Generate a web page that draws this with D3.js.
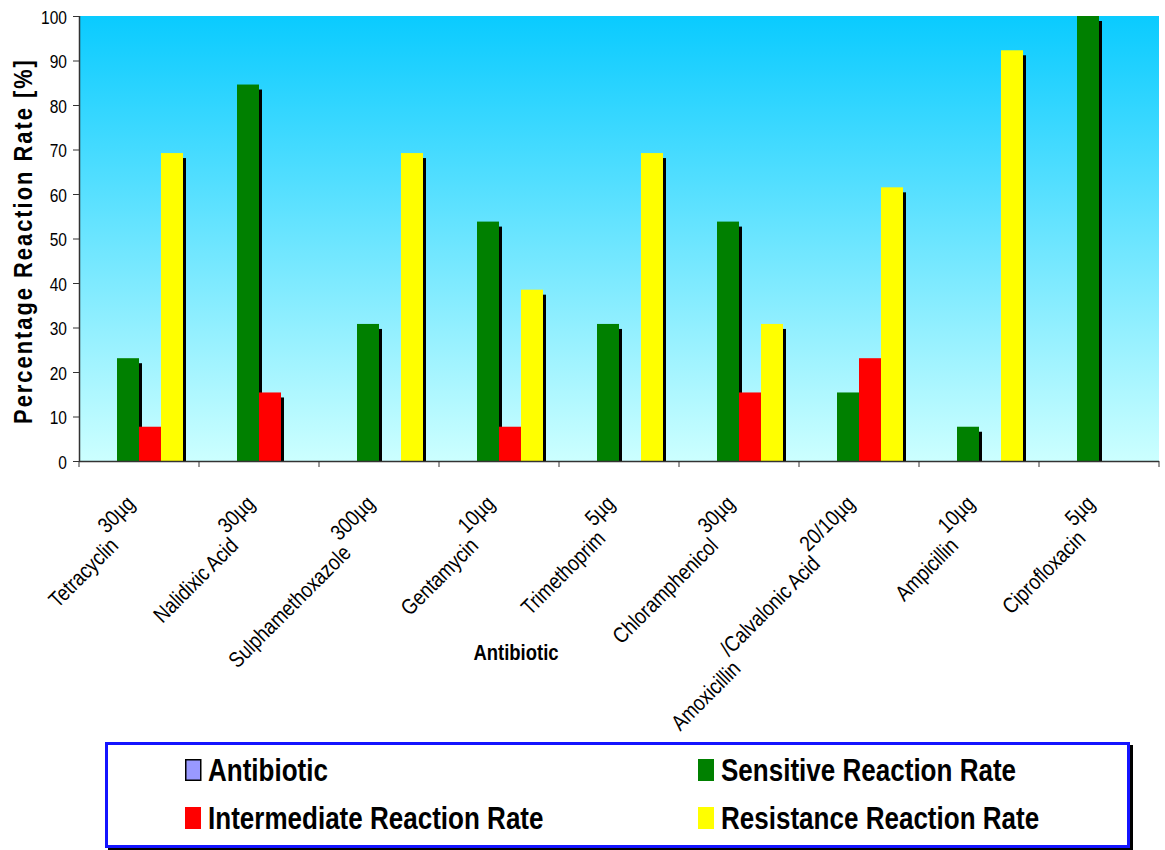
<!DOCTYPE html>
<html>
<head>
<meta charset="utf-8">
<script src="https://cdn.jsdelivr.net/npm/d3@7"></script>
<style>
  html, body { margin: 0; padding: 0; background: #ffffff; }
  svg { display: block; font-family: "Liberation Sans", Arial, sans-serif; }
</style>
</head>
<body>
<svg id="chart" width="1165" height="850"></svg>
<script>
// Antibiotic susceptibility results (percent of isolates)
const categories = [
  "Tetracyclin", "Nalidixic Acid", "Sulphamethoxazole", "Gentamycin",
  "Trimethoprim", "Chloramphenicol", "Amoxicillin\n/Calvalonic Acid",
  "Ampicillin", "Ciprofloxacin"
];
const doses = ["30µg", "30µg", "300µg", "10µg", "5µg", "30µg", "20/10µg", "10µg", "5µg"];

const seriesNames = ["Antibiotic", "Sensitive Reaction Rate", "Intermediate Reaction Rate", "Resistance Reaction Rate"];
const seriesColors = ["#9999FF", "#008000", "#FF0000", "#FFFF00"];

const antibioticValues = [null, null, null, null, null, null, null, null, null];
const sensitiveValues = [23.1, 84.6, 30.8, 53.8, 30.8, 53.8, 15.4, 7.7, 100];
const intermediateValues = [7.7, 15.4, 0, 7.7, 0, 15.4, 23.1, 0, 0];
const resistanceValues = [69.2, 0, 69.2, 38.5, 69.2, 30.8, 61.5, 92.3, 0];

const yTicks = [0, 10, 20, 30, 40, 50, 60, 70, 80, 90, 100];

const seriesValues = [antibioticValues, sensitiveValues, intermediateValues, resistanceValues];

// ---- layout ----
const plot = { left: 79, right: 1159, top: 16, bottom: 461 };
const NARROW = 0.84;   // condensed lettering

const svg = d3.select("#chart");

const x0 = d3.scaleBand()
  .domain(categories)
  .range([plot.left, plot.right])
  .paddingInner(32 / 120)
  .paddingOuter(16 / 120);

const x1 = d3.scaleBand()
  .domain(seriesNames)
  .range([0, x0.bandwidth()]);

const y = d3.scaleLinear()
  .domain([0, 100])
  .range([plot.bottom, plot.top]);

// ---- plot background gradient ----
const defs = svg.append("defs");
const grad = defs.append("linearGradient")
  .attr("id", "bg").attr("x1", 0).attr("y1", 0).attr("x2", 0).attr("y2", 1);
grad.append("stop").attr("offset", "0%").attr("stop-color", "#0ACBFF");
grad.append("stop").attr("offset", "100%").attr("stop-color", "#CCFFFF");

svg.append("rect")
  .attr("x", plot.left).attr("y", plot.top)
  .attr("width", plot.right - plot.left).attr("height", plot.bottom - plot.top)
  .attr("fill", "url(#bg)");

// ---- bars ----
const barData = [];
categories.forEach((c, i) => {
  seriesNames.forEach((s, k) => {
    const v = seriesValues[k][i];
    if (v !== null && v > 0) barData.push({ cat: c, series: s, value: v, color: seriesColors[k] });
  });
});

const SHADOW_DX = 3, SHADOW_DY = 5;

svg.append("g").selectAll("rect")
  .data(barData)
  .join("rect")
  .attr("x", d => x0(d.cat) + x1(d.series) + SHADOW_DX)
  .attr("y", d => y(d.value) + SHADOW_DY)
  .attr("width", x1.bandwidth())
  .attr("height", d => Math.max(0, y(0) - y(d.value) - SHADOW_DY))
  .attr("fill", "#000");

svg.append("g").selectAll("rect")
  .data(barData)
  .join("rect")
  .attr("x", d => x0(d.cat) + x1(d.series))
  .attr("y", d => y(d.value))
  .attr("width", x1.bandwidth())
  .attr("height", d => y(0) - y(d.value))
  .attr("fill", d => d.color);

// ---- axes ----
const axisColor = "#333";

// y axis
const yAxis = svg.append("g");
yAxis.append("line")
  .attr("x1", plot.left + 0.5).attr("x2", plot.left + 0.5)
  .attr("y1", plot.top).attr("y2", plot.bottom)
  .attr("stroke", axisColor).attr("stroke-width", 1.5);
yAxis.selectAll("line.tick")
  .data(yTicks).join("line").attr("class", "tick")
  .attr("x1", plot.left - 6).attr("x2", plot.left)
  .attr("y1", d => y(d) + 0.5).attr("y2", d => y(d) + 0.5)
  .attr("stroke", axisColor).attr("stroke-width", 1);
yAxis.selectAll("text")
  .data(yTicks).join("text")
  .attr("transform", d => `translate(67,${y(d) + 7.5}) scale(${NARROW},1)`)
  .attr("text-anchor", "end")
  .attr("font-size", "18.5px")
  .attr("fill", "#000")
  .text(d => d);

// x axis
const xAxis = svg.append("g");
xAxis.append("line")
  .attr("x1", plot.left).attr("x2", plot.right)
  .attr("y1", plot.bottom + 0.5).attr("y2", plot.bottom + 0.5)
  .attr("stroke", axisColor).attr("stroke-width", 1.5);
const step = x0.step();
const boundaries = [x0(categories[0]) - x0.paddingOuter() * step]
  .concat(categories.map(c => x0(c) - x0.paddingOuter() * step + step));
xAxis.selectAll("line.tick")
  .data(boundaries).join("line").attr("class", "tick")
  .attr("x1", d => d).attr("x2", d => d)
  .attr("y1", plot.bottom).attr("y2", plot.bottom + 6)
  .attr("stroke", axisColor).attr("stroke-width", 1);

// rotated category labels: dose on top line, name lines stepping down-left
const LINE_STEP = 18;
categories.forEach((c, i) => {
  const cx = x0(c) + x0.bandwidth() / 2;
  const g = xAxis.append("g")
    .attr("transform", `translate(${cx - 3},${505}) rotate(-45)`);
  const segments = c.split("\n").concat([doses[i]]);
  let endX = 0, ly = 0;
  for (let s = segments.length - 1; s >= 0; s--) {
    const t = g.append("text")
      .attr("transform", `translate(${endX},${ly}) scale(${NARROW},1)`)
      .attr("text-anchor", "end")
      .attr("font-size", "22px")
      .attr("fill", "#000")
      .text(segments[s]);
    const w = t.node().getComputedTextLength() * NARROW;
    endX -= w;
    ly += LINE_STEP;
  }
});

// axis titles
svg.append("text")
  .attr("transform", `translate(516,660) scale(${NARROW},1)`)
  .attr("text-anchor", "middle")
  .attr("font-size", "22px").attr("font-weight", "bold")
  .text("Antibiotic");

svg.append("text")
  .attr("transform", `translate(32,241) rotate(-90) scale(${NARROW},1)`)
  .attr("text-anchor", "middle")
  .attr("font-size", "26px").attr("font-weight", "bold")
  .attr("letter-spacing", "2.4px")
  .text("Percentage Reaction Rate [%]");

// ---- legend ----
const legend = svg.append("g");
legend.append("rect")
  .attr("x", 108).attr("y", 745).attr("width", 1025).attr("height", 106)
  .attr("fill", "#000");
legend.append("rect")
  .attr("x", 106.5).attr("y", 743.5).attr("width", 1022).attr("height", 103)
  .attr("fill", "#fff").attr("stroke", "#1414FF").attr("stroke-width", 3);

const legendPos = [
  { x: 185, y: 770 }, { x: 698, y: 770 },
  { x: 185, y: 818 }, { x: 698, y: 818 }
];
seriesNames.forEach((s, k) => {
  const p = legendPos[k];
  legend.append("rect")
    .attr("x", p.x + (k === 0 ? 0.75 : 0)).attr("y", p.y - 11 + (k === 0 ? 0.75 : 0))
    .attr("width", k === 0 ? 15 : 16).attr("height", k === 0 ? 20.5 : 22)
    .attr("fill", seriesColors[k])
    .attr("stroke", k === 0 ? "#000" : "none").attr("stroke-width", 1.5);
  legend.append("text")
    .attr("transform", `translate(${p.x + 23},${p.y + 11}) scale(${NARROW},1)`)
    .attr("font-size", "31px").attr("font-weight", "bold")
    .attr("fill", "#000")
    .text(s);
});
</script>
</body>
</html>
